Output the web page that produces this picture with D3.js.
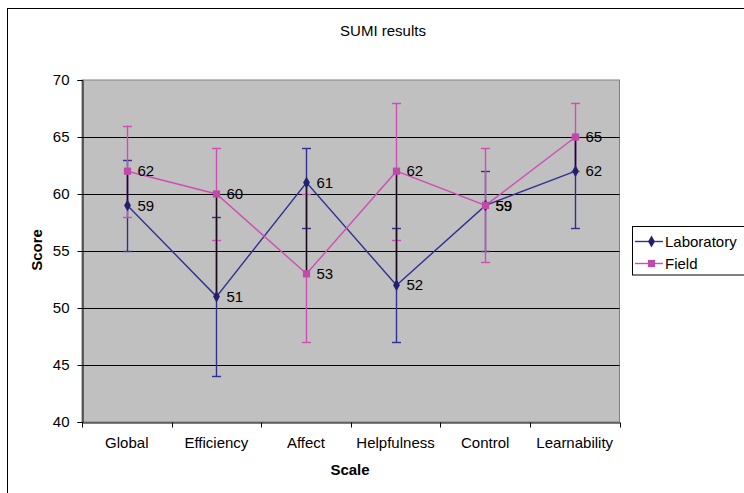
<!DOCTYPE html>
<html>
<head>
<meta charset="utf-8">
<script src="https://cdn.jsdelivr.net/npm/d3@7"></script>
<style>
  html, body { margin: 0; padding: 0; background: #fff; }
  svg { display: block; }
  text { font-family: "Liberation Sans", Arial, sans-serif; fill: #000; }
</style>
</head>
<body>
<svg id="chart" width="744" height="493"></svg>
<script>
const categories = ["Global", "Efficiency", "Affect", "Helpfulness", "Control", "Learnability"];
const labValues   = [59, 51, 61, 52, 59, 62];
const fieldValues = [62, 60, 53, 62, 59, 65];
const labLow    = [55, 44, 57, 47, 55, 57];
const labHigh   = [63, 58, 64, 57, 62, 65];
const fieldLow  = [58, 56, 47, 56, 54, 62];
const fieldHigh = [66, 64, 60, 68, 64, 68];
const yTicks = [40, 45, 50, 55, 60, 65, 70];
const seriesNames = ["Laboratory", "Field"];
const titleText = "SUMI results";
const xTitle = "Scale";
const yTitle = "Score";

const labColor = "#303090", labMarker = "#20206e";
const fieldColor = "#cc50b4", fieldMarker = "#c04aa8";

const svg = d3.select("#chart");
const plot = { left: 82, right: 619.5, top: 80, bottom: 422 };

const x = d3.scaleBand().domain(categories).range([plot.left, plot.right]).padding(0);
const xc = c => Math.round(x(c) + x.bandwidth() / 2) + 0.5;
const y = d3.scaleLinear().domain([40, 70]).range([plot.bottom, plot.top]);

// outer border
svg.append("rect").attr("x", 7.5).attr("y", 8.5).attr("width", 800).attr("height", 600)
  .attr("fill", "#fff").attr("stroke", "#000").attr("stroke-width", 1);

// title
svg.append("text").attr("x", 383).attr("y", 36).attr("text-anchor", "middle")
  .attr("font-size", 15).text(titleText);

// plot background
svg.append("rect").attr("x", plot.left).attr("y", plot.top)
  .attr("width", plot.right - plot.left).attr("height", plot.bottom - plot.top)
  .attr("fill", "#c0c0c0").attr("stroke", "#808080").attr("stroke-width", 1);

// gridlines
svg.append("g").selectAll("line").data(yTicks.filter(t => t > 40 && t < 70)).join("line")
  .attr("x1", plot.left).attr("x2", plot.right)
  .attr("y1", d => Math.round(y(d)) + 0.5).attr("y2", d => Math.round(y(d)) + 0.5)
  .attr("stroke", "#000").attr("stroke-width", 1);

// y axis
const yAxis = svg.append("g").attr("transform", `translate(${plot.left + 0.5},0)`)
  .call(d3.axisLeft(y).tickValues(yTicks).tickSize(5).tickPadding(8).tickFormat(d3.format("d")));
yAxis.select(".domain").attr("stroke", "#000");
yAxis.selectAll(".tick line").attr("stroke", "#000");
yAxis.selectAll(".tick text").attr("font-size", 15).attr("font-family", "Liberation Sans, Arial, sans-serif").attr("fill", "#000");

// x axis
const xAxis = svg.append("g").attr("transform", `translate(0,${plot.bottom + 0.5})`)
  .call(d3.axisBottom(x).tickSize(0).tickPadding(15));
xAxis.select(".domain").attr("stroke", "#000");
xAxis.selectAll(".tick text").attr("font-size", 15).attr("font-family", "Liberation Sans, Arial, sans-serif").attr("fill", "#000");
const boundaries = categories.map(c => x(c)).concat([plot.right]);
xAxis.selectAll(".bound").data(boundaries).join("line").attr("class", "bound")
  .attr("x1", d => Math.round(d) + 0.5).attr("x2", d => Math.round(d) + 0.5)
  .attr("y1", 0).attr("y2", 5).attr("stroke", "#000");

// axis titles
svg.append("text").attr("x", 350).attr("y", 475).attr("text-anchor", "middle")
  .attr("font-size", 15).attr("font-weight", "bold").text(xTitle);
svg.append("text").attr("transform", "translate(42,250) rotate(-90)").attr("text-anchor", "middle")
  .attr("font-size", 15).attr("font-weight", "bold").text(yTitle);

// error bars
function errorBars(low, high, color) {
  const g = svg.append("g").attr("stroke", color).attr("stroke-width", 1.4);
  categories.forEach((c, i) => {
    const cx = xc(c);
    g.append("line").attr("x1", cx).attr("x2", cx).attr("y1", y(low[i])).attr("y2", y(high[i]));
    [low[i], high[i]].forEach(v => {
      g.append("line").attr("x1", cx - 4.5).attr("x2", cx + 4.5)
        .attr("y1", Math.round(y(v)) + 0.5).attr("y2", Math.round(y(v)) + 0.5);
    });
  });
}
errorBars(labLow, labHigh, labColor);
errorBars(fieldLow, fieldHigh, fieldColor);

// high-low lines
svg.append("g").selectAll("line").data(categories).join("line")
  .attr("x1", c => xc(c)).attr("x2", c => xc(c))
  .attr("y1", (c, i) => y(Math.max(labValues[i], fieldValues[i])))
  .attr("y2", (c, i) => y(Math.min(labValues[i], fieldValues[i])))
  .attr("stroke", "#1a0a1a").attr("stroke-width", 1.5);

// lines
const line = d3.line().x(d => xc(d.c)).y(d => y(d.v));
svg.append("path").datum(categories.map((c, i) => ({ c, v: labValues[i] })))
  .attr("d", line).attr("fill", "none").attr("stroke", labColor).attr("stroke-width", 1.4);
svg.append("path").datum(categories.map((c, i) => ({ c, v: fieldValues[i] })))
  .attr("d", line).attr("fill", "none").attr("stroke", fieldColor).attr("stroke-width", 1.4);

// markers
const diamond = d3.symbol().type(d3.symbolDiamond).size(40);
const square = d3.symbol().type(d3.symbolSquare).size(52);
svg.append("g").selectAll("path").data(categories).join("path")
  .attr("transform", (c, i) => `translate(${xc(c)},${y(labValues[i])})`)
  .attr("d", diamond).attr("fill", labMarker);
svg.append("g").selectAll("path").data(categories).join("path")
  .attr("transform", (c, i) => `translate(${xc(c)},${y(fieldValues[i])})`)
  .attr("d", square).attr("fill", fieldMarker);

// data labels
function dataLabels(vals) {
  svg.append("g").selectAll("text").data(categories).join("text")
    .attr("x", c => xc(c) + 10).attr("y", (c, i) => y(vals[i]))
    .attr("dy", "0.35em").attr("font-size", 15).text((c, i) => vals[i]);
}
dataLabels(labValues);
dataLabels(fieldValues);

// legend
const lg = svg.append("g");
lg.append("rect").attr("x", 632.5).attr("y", 226.5).attr("width", 120).attr("height", 48.5)
  .attr("fill", "#fff").attr("stroke", "#000");
const legendItems = [
  { name: seriesNames[0], color: labColor, marker: labMarker, sym: diamond, yy: 241.5 },
  { name: seriesNames[1], color: fieldColor, marker: fieldMarker, sym: square, yy: 263.5 }
];
legendItems.forEach(it => {
  lg.append("line").attr("x1", 635).attr("x2", 663).attr("y1", it.yy).attr("y2", it.yy)
    .attr("stroke", it.color).attr("stroke-width", 1.4);
  lg.append("path").attr("transform", `translate(651.5,${it.yy})`).attr("d", it.sym).attr("fill", it.marker);
  lg.append("text").attr("x", 665).attr("y", it.yy).attr("dy", "0.35em").attr("font-size", 15).text(it.name);
});
</script>
</body>
</html>
